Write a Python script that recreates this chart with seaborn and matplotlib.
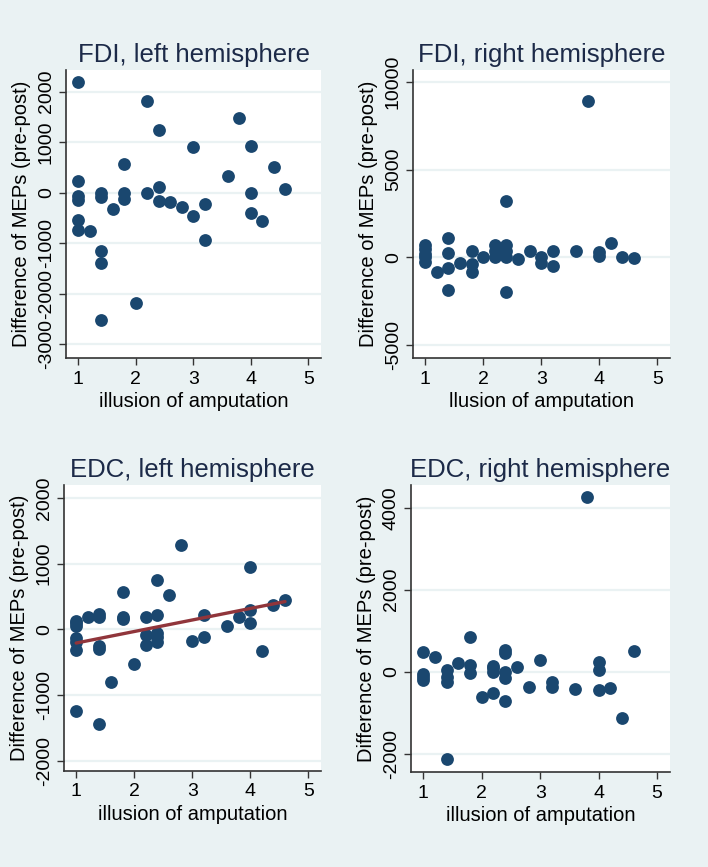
import matplotlib
matplotlib.use("Agg")
import matplotlib.pyplot as plt
import pandas as pd
import seaborn as sns

# ─── Data ────────────────────────────────────────────────────────────────────
fdi_left_x = [1, 1, 1, 1, 1, 1, 1.2, 1.4, 1.4, 1.4, 1.4, 1.4, 1.6, 1.8, 1.8, 1.8, 2.0,
              2.2, 2.2, 2.4, 2.4, 2.4, 2.6, 2.8, 3.0, 3.0, 3.2, 3.2, 3.6, 3.8,
              4.0, 4.0, 4.0, 4.2, 4.4, 4.6]
fdi_left_y = [2200, 240, -70, -140, -540, -740, -750, 0, -80, -1150, -1390, -2520, -320,
              570, -10, -130, -2180, 1820, -10, 1240, 120, -160, -190, -280, 910, -460,
              -230, -940, 330, 1470, 930, 0, -400, -560, 500, 80]

fdi_right_x = [1, 1, 1, 1, 1, 1.2, 1.4, 1.4, 1.4, 1.4, 1.6, 1.8, 1.8, 1.8, 2.0,
               2.2, 2.2, 2.2, 2.4, 2.4, 2.4, 2.4, 2.4, 2.6, 2.8, 3.0, 3.0, 3.2, 3.2,
               3.6, 3.8, 4.0, 4.0, 4.2, 4.4, 4.6]
fdi_right_y = [700, 450, 200, 0, -250, -820, 1080, 230, -630, -1870, -340, 380, -400, -820,
               40, 700, 350, 40, 3210, 700, 350, 40, -1960, -120, 360, 40, -340, 380, -500,
               360, 8930, 320, 90, 800, 40, -20]

edc_left_x = [1, 1, 1, 1, 1, 1, 1, 1.2, 1.4, 1.4, 1.4, 1.4, 1.4, 1.6, 1.8, 1.8, 1.8, 2.0,
              2.2, 2.2, 2.2, 2.4, 2.4, 2.4, 2.4, 2.4, 2.6, 2.8, 3.0, 3.2, 3.2, 3.6, 3.8,
              4.0, 4.0, 4.0, 4.2, 4.4, 4.6]
edc_left_y = [130, 90, 50, -130, -200, -320, -1250, 190, 240, 180, -260, -300, -1440, -810,
              560, 190, 160, -530, 190, -80, -240, 750, 220, -50, -120, -190, 520, 1280,
              -180, 220, -120, 50, 190, 950, 300, 90, -330, 370, 440]

edc_right_x = [1, 1, 1, 1, 1.2, 1.4, 1.4, 1.4, 1.4, 1.6, 1.8, 1.8, 1.8, 2.0,
               2.2, 2.2, 2.2, 2.2, 2.4, 2.4, 2.4, 2.4, 2.4, 2.6, 2.8, 3.0, 3.2, 3.2,
               3.6, 3.8, 4.0, 4.0, 4.0, 4.2, 4.4, 4.6]
edc_right_y = [470, -50, -130, -200, 350, 40, -120, -240, -2140, 220, 840, 160, -40, -620,
               150, 80, 0, -530, 530, 450, 0, -160, -710, 120, -380, 290, -240, -370,
               -420, 4270, 240, 40, -450, -390, -1140, 500]

titles = ["FDI, left hemisphere", "FDI, right hemisphere",
          "EDC, left hemisphere", "EDC, right hemisphere"]
xlabels = ["illusion of amputation", "llusion of amputation",
           "illusion of amputation", "illusion of amputation"]
ylabel = "Difference of MEPs (pre-post)"
x_ticks = [1, 2, 3, 4, 5]
y_ticks = [
    [-3000, -2000, -1000, 0, 1000, 2000],
    [-5000, 0, 5000, 10000],
    [-2000, -1000, 0, 1000, 2000],
    [-2000, 0, 2000, 4000],
]

# ─── Style ────────────────────────────────────────────────────────────────────
BG = "#eaf2f3"
NAVY = "#1a476f"
MAROON = "#90353b"
TITLE_COLOR = "#1c2a48"

sns.set_theme(style="white")
plt.rcParams["font.family"] = ["Liberation Sans", "DejaVu Sans"]

W, H = 708, 867
fig = plt.figure(figsize=(W / 100, H / 100), dpi=100, facecolor=BG)

# panel boxes in pixels: left, right, top, bottom, plus y-limits
boxes = [
    (66, 321, 70, 358, (-3273, 2430)),
    (413, 670, 70, 358, (-5744, 10684)),
    (64, 321, 485, 771, (-2157, 2196)),
    (411, 670, 485, 772, (-2446, 4554)),
]
panels = [
    (fdi_left_x, fdi_left_y),
    (fdi_right_x, fdi_right_y),
    (edc_left_x, edc_left_y),
    (edc_right_x, edc_right_y),
]

for i, ((l, r, t, b, ylim), (xs, ys)) in enumerate(zip(boxes, panels)):
    ax = fig.add_axes([l / W, 1 - b / H, (r - l) / W, (b - t) / H])
    ax.set_facecolor("white")
    df = pd.DataFrame({"x": xs, "y": ys})

    for yt in y_ticks[i]:
        ax.axhline(yt, color=BG, lw=1.6, zorder=0)

    sns.scatterplot(data=df, x="x", y="y", ax=ax, color=NAVY, s=85,
                    linewidth=0, zorder=3)
    if i == 2:
        sns.regplot(data=df, x="x", y="y", ax=ax, scatter=False, ci=None,
                    line_kws={"color": MAROON, "lw": 2.4, "zorder": 4})

    ax.set_xlim(0.79, 5.22)
    ax.set_ylim(*ylim)
    ax.set_xticks(x_ticks)
    ax.set_yticks(y_ticks[i])
    ax.set_yticklabels([str(v) for v in y_ticks[i]], rotation=90, va="center")
    ax.tick_params(axis="both", which="major", direction="out", length=5,
                   width=1, color="#333333", labelsize=14, labelcolor="black",
                   bottom=True, left=True, pad=3)
    ax.tick_params(axis="x", pad=4)

    for side in ["top", "right"]:
        ax.spines[side].set_visible(False)
    for side in ["left", "bottom"]:
        ax.spines[side].set_color("#333333")
        ax.spines[side].set_linewidth(1.2)

    ax.set_xlabel(xlabels[i], fontsize=14.5, color="black", labelpad=3)
    ax.set_ylabel(ylabel, fontsize=14.5, color="black", labelpad=5)
    ax.set_title(titles[i], fontsize=18.5, color=TITLE_COLOR, pad=6)

fig.savefig("out.png", dpi=100, facecolor=BG)
